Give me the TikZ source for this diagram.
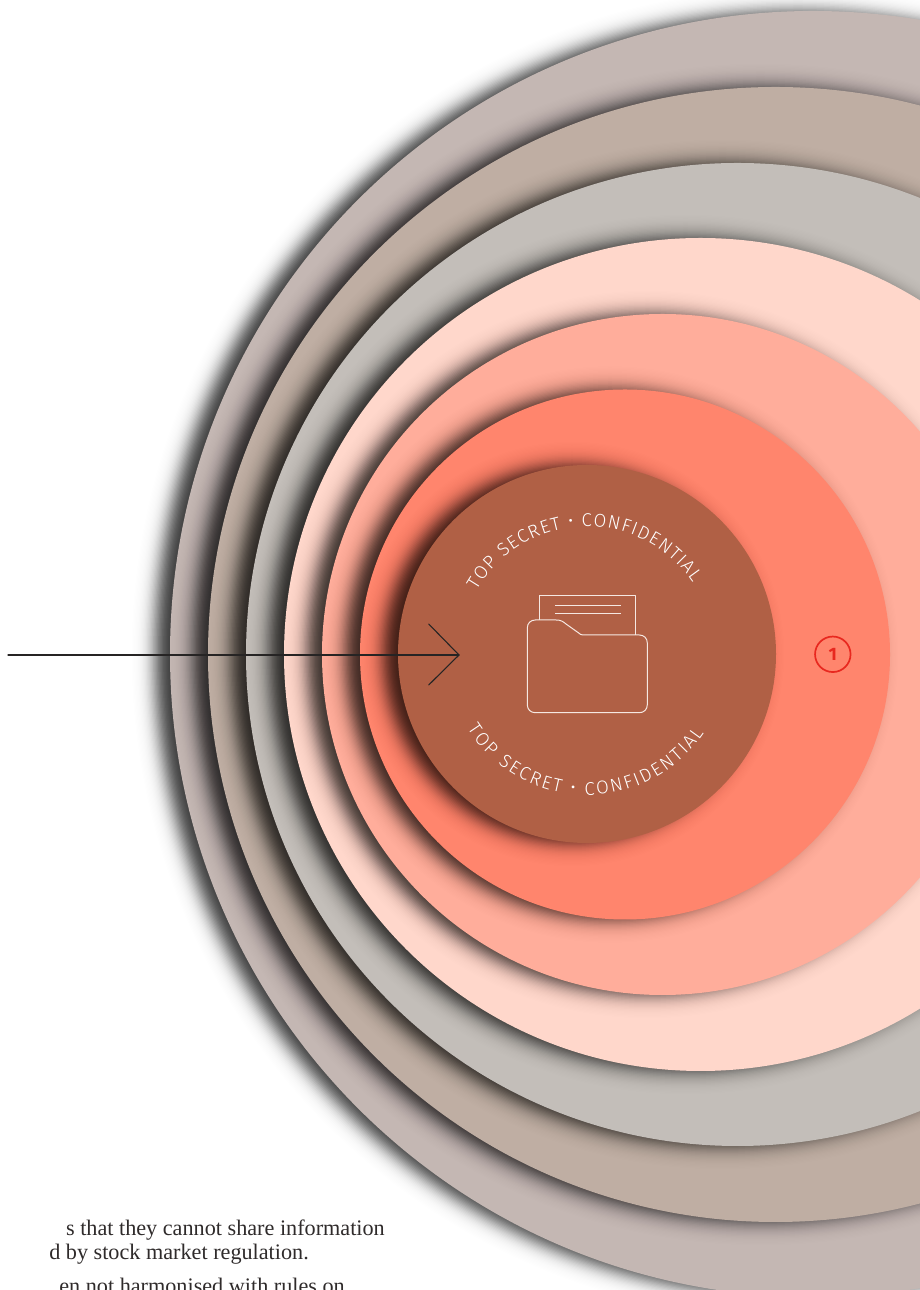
\documentclass[tikz,border=0pt]{standalone}
\usepackage{fontspec}
\usetikzlibrary{decorations.text}
\setmainfont{Liberation Serif}
\newfontfamily\firaL{Fira Sans}[UprightFont=* Light]
\newfontfamily\firaB{Fira Sans}[UprightFont=* Bold]
\definecolor{ringg}{HTML}{C4B7B3}
\definecolor{ringf}{HTML}{BFAEA3}
\definecolor{ringe}{HTML}{C3BEB9}
\definecolor{ringd}{HTML}{FFD7CB}
\definecolor{ringc}{HTML}{FFAD9B}
\definecolor{ringb}{HTML}{FF856D}
\definecolor{ringa}{HTML}{B06045}
\definecolor{badge}{HTML}{E8281F}
\definecolor{inkline}{HTML}{262424}
\definecolor{iconline}{HTML}{F6E8E2}
\definecolor{bodytext}{HTML}{2F2B2B}
\tikzset{
  x=1pt,y=1pt,
  arrowline/.style={draw=inkline,line width=1.1pt,line cap=round,line join=round},
  iconstroke/.style={draw=iconline,line width=1pt,line join=round},
  bodyline/.style={anchor=base east,inner sep=0pt,font=\fontsize{22.2}{24}\selectfont,text=bodytext},
  badgering/.style={circle,draw=badge,line width=1.7pt,minimum size=35.5pt,inner sep=0pt,text=badge,font=\firaB\fontsize{18}{18}\selectfont},
}
% draws a blurred shadow + disc: #1 cx, #2 cy, #3 r, #4 colour
\newcommand{\softdisc}[4]{%
  \pgfmathsetmacro{\prevA}{0}%
  \foreach \k in {0,...,43}{%
    \pgfmathsetmacro{\dd}{27-1.25*\k}%
    \pgfmathsetmacro{\curA}{0.76/(1+exp(1.75*\dd/9.5))}%
    \pgfmathsetmacro{\lay}{1-(1-\curA)/(1-0.76/(1+exp(1.75*(\dd+1.25)/9.5)))}%
    \fill[black,fill opacity=\lay] (#1-15,#2) circle[radius=#3pt+\dd pt];
  }%
  \fill[#4] (#1,#2) circle[radius=#3pt];
}
\begin{document}
\begin{tikzpicture}
\useasboundingbox (0,0) rectangle (920,1290);
\fill[white] (0,0) rectangle (920,1290);
\softdisc{813}{636}{643}{ringg}
\softdisc{775.5}{635.5}{567.5}{ringf}
\softdisc{737.5}{635.5}{491.5}{ringe}
\softdisc{700.5}{635.5}{416.5}{ringd}
\softdisc{662.5}{635.5}{340.5}{ringc}
\softdisc{625}{635.5}{265}{ringb}
\softdisc{587}{636}{189}{ringa}

% arc labels
\path[decorate,decoration={text along path,text align={fit to path},
  text={|\firaL\fontsize{18.5}{18.5}\selectfont\color{white}|TOP SECRET • CONFIDENTIAL}}]
  (587,636) ++(150:127.5pt) arc[start angle=150,end angle=34,radius=127.5pt];
\path[decorate,decoration={text along path,text align={fit to path},
  text={|\firaL\fontsize{18.5}{18.5}\selectfont\color{white}|TOP SECRET • CONFIDENTIAL}}]
  (587,636) ++(212:141pt) arc[start angle=212,end angle=326,radius=141pt];

% folder icon
\draw[iconstroke] (539.5,670) -- (539.5,694) -- (635.7,694) -- (635.7,655);
\draw[iconstroke] (555,684) -- (621,684);
\draw[iconstroke] (555,676.7) -- (621,676.7);
\draw[iconstroke,rounded corners=0pt]
  (535.3,670) -- (556,670) .. controls (561,670) and (563,668.5) .. (566,666)
  -- (578,657.5) .. controls (580,655.8) and (581,655) .. (583,655)
  -- (639.3,655) .. controls (644,655) and (647.3,651.7) .. (647.3,647)
  -- (647.3,585.3) .. controls (647.3,580.6) and (644,577.3) .. (639.3,577.3)
  -- (535.3,577.3) .. controls (530.6,577.3) and (527.3,580.6) .. (527.3,585.3)
  -- (527.3,662) .. controls (527.3,666.7) and (530.6,670) .. (535.3,670) -- cycle;

% arrow
\coordinate (arrowstart) at (8,635);
\coordinate (arrowtip) at (459,635);
\coordinate (barbup) at (428.7,666);
\coordinate (barbdown) at (428.7,605);
\draw[arrowline] (arrowstart) -- (arrowtip);
\draw[arrowline] (barbup) -- (arrowtip) -- (barbdown);

% badge
\node[badgering] (badgeone) at (832.8,635.7) {1};

% body text
\node[bodyline] (lineone) at (385,1290-1236) {s that they cannot share information};
\node[bodyline] (linetwo) at (309,1290-1260) {d by stock market regulation.};
\node[bodyline] (linethree) at (345,1290-1294) {en not harmonised with rules on};
\end{tikzpicture}
\end{document}
